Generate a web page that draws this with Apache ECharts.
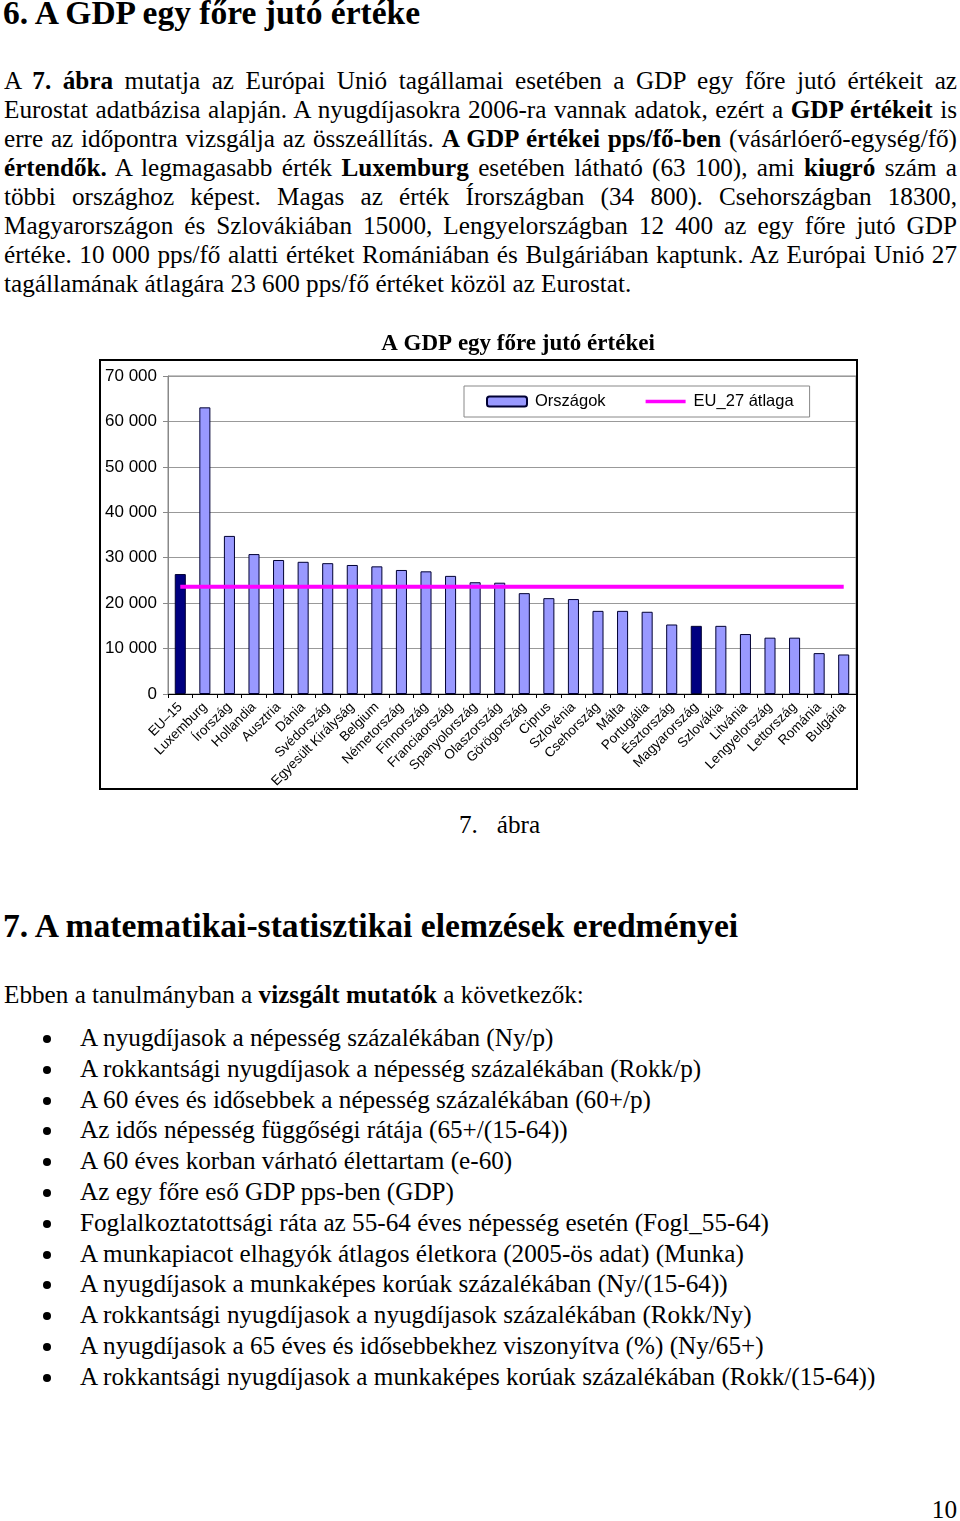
<!DOCTYPE html>
<html>
<head>
<meta charset="utf-8">
<script src="https://cdn.jsdelivr.net/npm/echarts@6/dist/echarts.min.js"></script>
<style>
html,body{margin:0;padding:0;background:#fff;}
body{width:960px;height:1521px;position:relative;overflow:hidden;font-family:"Liberation Serif","Times New Roman",serif;color:#000;}
.abs{position:absolute;}
.h6{left:3px;top:-6px;font-size:33.5px;font-weight:bold;line-height:38px;white-space:nowrap;}
.para{left:4px;top:66px;width:953px;font-size:25.2px;line-height:29px;}
.para .j{text-align:justify;text-align-last:justify;}
.h7{left:3px;top:906px;font-size:33.6px;font-weight:bold;line-height:40px;white-space:nowrap;}
.intro{left:4px;top:980px;font-size:25.2px;line-height:29px;white-space:nowrap;}
.bul{left:0;top:1023px;width:960px;font-size:25.2px;line-height:30.8px;}
.bul .it{position:relative;height:30.8px;white-space:nowrap;}
.bul .dot{position:absolute;left:43px;top:12px;width:8px;height:8px;border-radius:50%;background:#000;}
.bul .tx{position:absolute;left:80px;top:0;}
.cap{left:459px;top:810px;font-size:25.2px;line-height:29px;white-space:nowrap;}
.pg{right:3px;top:1495px;font-size:25.2px;line-height:29px;}
#chart{position:absolute;left:98px;top:322px;width:764px;height:470px;}
</style>
</head>
<body>
<div class="abs h6">6. A GDP egy főre jutó értéke</div>
<div class="abs para">
<div class="j">A <b>7. ábra</b> mutatja az Európai Unió tagállamai esetében a GDP egy főre jutó értékeit az</div>
<div class="j">Eurostat adatbázisa alapján. A nyugdíjasokra 2006-ra vannak adatok, ezért a <b>GDP értékeit</b> is</div>
<div class="j">erre az időpontra vizsgálja az összeállítás. <b>A GDP értékei pps/fő-ben</b> (vásárlóerő-egység/fő)</div>
<div class="j"><b>értendők.</b> A legmagasabb érték <b>Luxemburg</b> esetében látható (63 100), ami <b>kiugró</b> szám a</div>
<div class="j">többi országhoz képest. Magas az érték Írországban (34 800). Csehországban 18300,</div>
<div class="j">Magyarországon és Szlovákiában 15000, Lengyelországban 12 400 az egy főre jutó GDP</div>
<div class="j">értéke. 10 000 pps/fő alatti értéket Romániában és Bulgáriában kaptunk. Az Európai Unió 27</div>
<div>tagállamának átlagára 23 600 pps/fő értéket közöl az Eurostat.</div>
</div>

<div id="chart"></div>
<div class="abs cap">7.&nbsp;&nbsp;&nbsp;ábra</div>

<div class="abs h7">7. A matematikai-statisztikai elemzések eredményei</div>
<div class="abs intro">Ebben a tanulmányban a <b>vizsgált mutatók</b> a következők:</div>
<div class="abs bul" id="bullets"></div>
<div class="abs pg">10</div>

<script>
// ---- chart data ----
const categories = ['EU–15','Luxemburg','Írország','Hollandia','Ausztria','Dánia','Svédország','Egyesült Királyság','Belgium','Németország','Finnország','Franciaország','Spanyolország','Olaszország','Görögország','Ciprus','Szlovénia','Csehország','Málta','Portugália','Észtország','Magyarország','Szlovákia','Litvánia','Lengyelország','Lettország','Románia','Bulgária'];
const gdpValues = [26400,63100,34800,30800,29500,29100,28800,28400,28100,27300,27000,26000,24600,24500,22200,21100,20900,18300,18300,18100,15300,15000,15000,13200,12400,12400,9000,8700];
const eu27Average = [23600,23600,23600,23600,23600,23600,23600,23600,23600,23600,23600,23600,23600,23600,23600,23600,23600,23600,23600,23600,23600,23600,23600,23600,23600,23600,23600,23600];
const highlighted = ['EU–15','Magyarország'];
const seriesNames = ['Országok','EU_27 átlaga'];
const chartTitle = 'A GDP egy főre jutó értékei';

// ---- text list ----
const bulletItems = [
 'A nyugdíjasok a népesség százalékában (Ny/p)',
 'A rokkantsági nyugdíjasok a népesség százalékában (Rokk/p)',
 'A 60 éves és idősebbek a népesség százalékában (60+/p)',
 'Az idős népesség függőségi rátája (65+/(15-64))',
 'A 60 éves korban várható élettartam (e-60)',
 'Az egy főre eső GDP pps-ben (GDP)',
 'Foglalkoztatottsági ráta az 55-64 éves népesség esetén (Fogl_55-64)',
 'A munkapiacot elhagyók átlagos életkora (2005-ös adat) (Munka)',
 'A nyugdíjasok a munkaképes korúak százalékában (Ny/(15-64))',
 'A rokkantsági nyugdíjasok a nyugdíjasok százalékában (Rokk/Ny)',
 'A nyugdíjasok a 65 éves és idősebbekhez viszonyítva (%) (Ny/65+)',
 'A rokkantsági nyugdíjasok a munkaképes korúak százalékában (Rokk/(15-64))'
];
const bulEl = document.getElementById('bullets');
bulletItems.forEach(t => {
  const d = document.createElement('div'); d.className = 'it';
  const a = document.createElement('span'); a.className = 'dot';
  const b = document.createElement('span'); b.className = 'tx'; b.textContent = t;
  d.appendChild(a); d.appendChild(b); bulEl.appendChild(d);
});

const chart = echarts.init(document.getElementById('chart'), null, {renderer: 'canvas'});
const sans = 'Liberation Sans, Arial, sans-serif';
const option = {
  animation: false,
  backgroundColor: 'transparent',
  title: {
    text: chartTitle, left: 415, top: 6, textAlign: 'center',
    textStyle: {fontFamily: 'Liberation Serif', fontWeight: 'bold', fontSize: 23, color: '#000'}
  },
  graphic: [{
    type: 'rect', shape: {x: 2, y: 38, width: 757, height: 429},
    style: {fill: 'none', stroke: '#000', lineWidth: 2}, z: 100
  }],
  legend: {
    left: 366, top: 64, orient: 'horizontal',
    itemWidth: 40, itemHeight: 10, itemGap: 40,
    padding: [7, 16, 7, 22],
    borderColor: '#888', borderWidth: 1, backgroundColor: '#fff',
    textStyle: {fontFamily: sans, fontSize: 16.5, color: '#000', padding: [0, 0, 0, 3]},
    data: [
      {name: seriesNames[0]},
      {name: seriesNames[1], icon: 'path://M0,0L45,0L45,4L0,4Z', itemStyle: {color: '#FF00FF', borderWidth: 0}}
    ]
  },
  grid: {left: 70, right: 6, top: 54, bottom: 98, show: true, borderColor: '#888', borderWidth: 1, containLabel: false},
  xAxis: {
    type: 'category', data: categories, boundaryGap: true,
    axisLine: {lineStyle: {color: '#000', width: 1}},
    axisTick: {show: true, length: 4, interval: 0, lineStyle: {color: '#000'}},
    axisLabel: {interval: 0, rotate: 45, fontFamily: sans, fontSize: 13.5, color: '#000', margin: 11}
  },
  yAxis: {
    type: 'value', min: 0, max: 70000, interval: 10000,
    axisLine: {show: true, lineStyle: {color: '#888'}},
    axisTick: {show: true, length: 5, lineStyle: {color: '#888'}},
    splitLine: {lineStyle: {color: '#999', width: 1}},
    axisLabel: {fontFamily: sans, fontSize: 17, color: '#000', margin: 11,
      formatter: v => v === 0 ? '0' : String(v).replace(/\B(?=(\d{3})+(?!\d))/g, ' ')}
  },
  series: [
    {
      name: seriesNames[0], type: 'bar', barWidth: '45%',
      itemStyle: {color: '#9999FF', borderColor: '#000033', borderWidth: 1},
      data: gdpValues.map((v, i) => highlighted.includes(categories[i])
        ? {value: v, itemStyle: {color: '#000080'}} : v)
    },
    {
      name: seriesNames[1], type: 'line', data: eu27Average, symbol: 'none',
      lineStyle: {color: '#FF00FF', width: 4}, itemStyle: {color: '#FF00FF'}, z: 5
    }
  ]
};
chart.setOption(option);
</script>
</body>
</html>
